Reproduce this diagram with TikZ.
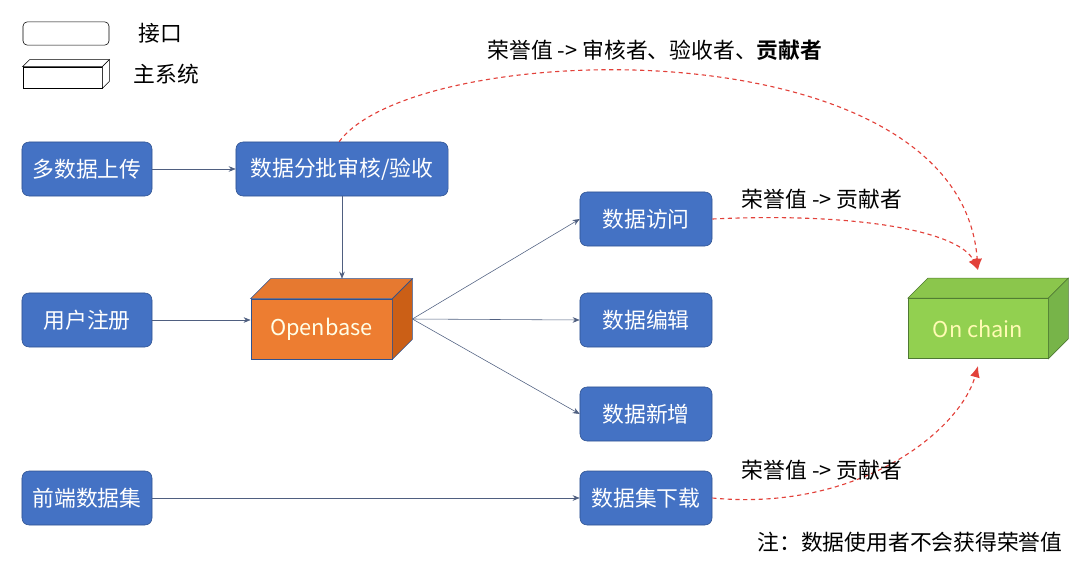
\documentclass[tikz,border=0pt]{standalone}
\usepackage{fontspec}
\setmainfont{Noto Sans CJK SC}[BoldFont={Noto Sans CJK SC Bold}]
\usepackage{tikz}
\usetikzlibrary{arrows.meta}

\definecolor{ifblue}{HTML}{4472C4}
\definecolor{ifedge}{HTML}{2F528F}
\definecolor{oborange}{HTML}{ED7D31}
\definecolor{obdark}{HTML}{C55A11}
\definecolor{ocgreen}{HTML}{92D050}
\definecolor{ocdark}{HTML}{70AD47}
\definecolor{linkgray}{HTML}{4F5F80}
\definecolor{honorred}{HTML}{E2413A}

\begin{document}
\begin{tikzpicture}[x=0.025cm,y=-0.025cm,
	font=\fontsize{15.5}{18}\selectfont,
	iface/.style={draw=ifedge,fill=ifblue,rounded corners=5pt,text=white,minimum height=1.35cm,inner sep=0pt},
	link/.style={draw=linkgray,-{Stealth[length=5pt,width=4pt]}},
	honor/.style={draw=honorred,thick,dash pattern=on 3pt off 2.5pt,-{Latex[length=8pt,width=7pt]}}]
	\useasboundingbox (0,0) rectangle (1080,567);
	% legend
	\node[draw,rounded corners=3pt,minimum width=2.15cm,minimum height=0.58cm] (lgif) at (66,33.5) {};
	\node[anchor=west] (lgiftext) at (134,33) {接口};
	\node[draw,fill=white,minimum width=1.98cm,minimum height=0.53cm,inner sep=0pt] (lgsys) at (62.5,77.5) {};
	\draw[fill=white] (lgsys.north west) -- ([shift={(7,-7)}]lgsys.north west) -- ([shift={(7,-7)}]lgsys.north east) -- (lgsys.north east) -- cycle;
	\draw[fill=white] (lgsys.north east) -- ([shift={(7,-7)}]lgsys.north east) -- ([shift={(7,-7)}]lgsys.south east) -- (lgsys.south east) -- cycle;
	\node[anchor=west] (lgsystext) at (129,74) {主系统};
	% interfaces
	\node[iface,minimum width=3.25cm] (upload) at (87,169) {多数据上传};
	\node[iface,minimum width=5.3cm] (review) at (342,169) {数据分批审核/验收};
	\node[iface,minimum width=3.25cm] (register) at (87,320) {用户注册};
	\node[iface,minimum width=3.25cm] (frontset) at (87,498) {前端数据集};
	\node[iface,minimum width=3.3cm] (access) at (646,219) {数据访问};
	\node[iface,minimum width=3.3cm] (edit) at (646,320) {数据编辑};
	\node[iface,minimum width=3.3cm] (add) at (646,414) {数据新增};
	\node[iface,minimum width=3.3cm] (download) at (646,498) {数据集下载};
	% main systems
	\node[draw=ifedge,fill=oborange,text=white!90!yellow,minimum width=3.53cm,minimum height=1.5cm,inner sep=0pt] (openbase) at (321.5,329) {Openbase};
	\draw[draw=ifedge,fill=oborange!97!black] (openbase.north west) -- ([shift={(20,-20)}]openbase.north west) -- ([shift={(20,-20)}]openbase.north east) -- (openbase.north east) -- cycle;
	\draw[draw=ifedge,fill=obdark!85!oborange] (openbase.north east) -- ([shift={(20,-20)}]openbase.north east) -- ([shift={(20,-20)}]openbase.south east) -- (openbase.south east) -- cycle;
	\coordinate (obout) at ([shift={(20,-10)}]openbase.east);
	\coordinate (obin) at ([shift={(20,-20)}]openbase.north);
	\node[draw=ocdark!70!black,fill=ocgreen,text=yellow!30!white,minimum width=3.5cm,minimum height=1.5cm,inner sep=0pt] (onchain) at (978,328.5) {On chain};
	\draw[draw=ocdark!70!black,fill=ocgreen!95!black] (onchain.north west) -- ([shift={(20,-20)}]onchain.north west) -- ([shift={(20,-20)}]onchain.north east) -- (onchain.north east) -- cycle;
	\draw[draw=ocdark!70!black,fill=ocdark!80!ocgreen] (onchain.north east) -- ([shift={(20,-20)}]onchain.north east) -- ([shift={(20,-20)}]onchain.south east) -- (onchain.south east) -- cycle;
	\coordinate (octop) at (978,270);
	\coordinate (ocbottom) at (978,366);
	% connectors
	\draw[link] (upload) -- (review);
	\draw[link] (review.south) -- (review.south |- obin);
	\draw[link] (register) -- (register -| openbase.west);
	\draw[link] (obout) -- (access.west);
	\draw[link] (obout) -- (edit.west);
	\draw[link] (obout) -- (add.west);
	\draw[link] (frontset) -- (download);
	% honor values
	\draw[honor] ([xshift=-2]review.north) .. controls (415,38) and (960,22) .. (octop);
	\draw[honor] (access.east) .. controls (860,212) and (960,232) .. (octop);
	\draw[honor] (download.east) .. controls (860,512) and (960,430) .. (ocbottom);
	\node (topnote) at (655,50) {荣誉值 -> 审核者、验收者、\textbf{贡献者}};
	\node (accnote) at (822,199) {荣誉值 -> 贡献者};
	\node (dlnote) at (822,470) {荣誉值 -> 贡献者};
	\node (footnote) at (910,542) {注：数据使用者不会获得荣誉值};
\end{tikzpicture}
\end{document}
